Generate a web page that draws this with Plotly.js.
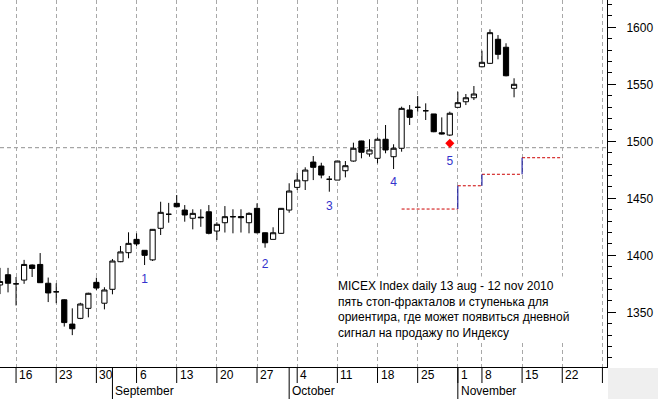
<!DOCTYPE html>
<html><head><meta charset="utf-8">
<script src="https://cdn.plot.ly/plotly-3.0.1.min.js"></script>
<style>html,body{margin:0;padding:0;background:#fff}#chart{width:658px;height:399px}</style>
</head><body><div id="chart"></div>
<script>
// Trading calendar (MICEX, 2010)
const firstSession = '2010-08-12';
const lastSession = '2010-11-29';
const holidays = ['2010-11-04', '2010-11-05'];

// Daily OHLC, 12 Aug - 12 Nov 2010
const openP  = [1374,1383,1375,1378.3,1391.5,1392,1375.5,1368,1361,1339.7,1344.7,1353.5,1376.3,1358,1370.2,1394.4,1402.3,1414,1404.4,1396,1423.7,1436,1445.6,1439.7,1432.5,1433.5,1438.2,1421.3,1428.6,1434,1434,1428.6,1441.2,1419.8,1414,1419.3,1439.7,1459.6,1465.4,1481.8,1478.3,1466.7,1466,1474.2,1482.7,1500.3,1488.9,1485.1,1501.8,1486.5,1493.9,1527.5,1529.8,1526.8,1524,1507.5,1505.5,1529.8,1534.7,1538.2,1565.4,1568.4,1589.5,1582.5,1546.5];
const highP  = [1389,1389,1381,1396,1392,1402,1380.5,1375.5,1361.5,1353.5,1358.4,1367.2,1380.4,1372,1396.8,1408.2,1420.2,1419.3,1404.5,1423,1447,1446,1452.9,1444.1,1440.4,1440.4,1444.1,1429,1443.2,1440.4,1440.4,1437.7,1445.6,1420,1424.6,1441.5,1463.2,1472.5,1477.2,1487.1,1481.2,1469.6,1483,1482.7,1498.8,1500.5,1501.8,1503.5,1514.3,1497.4,1530.4,1531.8,1539.7,1533.3,1524,1521,1526,1543.5,1541.5,1548.5,1579.5,1598.2,1593.2,1586,1555.3];
const lowP   = [1366,1367.5,1356,1375,1381,1376,1359,1358,1337.5,1330,1344,1345.6,1369.6,1352.6,1365.8,1394,1397.4,1408.2,1391.5,1395,1417.8,1428.6,1442,1429.5,1422.8,1425,1418.4,1413.4,1420,1419.3,1420,1419.3,1419.3,1406.7,1414,1419,1437.4,1457.3,1457.3,1466,1467.5,1455.8,1466,1468.4,1482.1,1485.1,1486.5,1480.7,1489.5,1475.7,1490.9,1514.3,1526,1518.7,1508,1506,1504.6,1529.8,1531.8,1536.2,1564.9,1568,1571.9,1557,1538.6];
const closeP = [1377,1375.5,1375,1392,1388.5,1376,1367,1368,1341,1335.6,1357.3,1366.7,1371.3,1369.6,1395,1403,1410.5,1410,1400,1422.8,1437.7,1436,1442.6,1435.4,1436.8,1433,1419.3,1427.2,1433.9,1433.8,1433,1436.8,1419.8,1411,1419.8,1441.2,1456.4,1466,1474.8,1477.2,1470.4,1466.7,1482.7,1478.6,1493.9,1490.4,1492.4,1501.8,1492.4,1493.9,1528.9,1521,1529.8,1526.8,1508.4,1506.5,1524.6,1533.9,1538.2,1541.5,1569.3,1595.3,1576.3,1557.5,1550];

// Stop-fractal labels
const fractalDates  = ['2010-09-07','2010-09-28','2010-10-08','2010-10-20','2010-10-29'];
const fractalLabelY = [1378.3, 1391.5, 1442.4, 1463.4, 1481.8];
const fractalLabels = ['1','2','3','4','5'];

// Signal marker
const signalDate = '2010-10-29';
const signalValue = 1498.2;

// Step line (ориентир)
const stepStarts = ['2010-10-21','2010-11-01','2010-11-08','2010-11-15'];
const stepEnds   = ['2010-11-01','2010-11-08','2010-11-15','2010-11-22'];
const stepLevels = [1440.6, 1461, 1471.1, 1485.6];

// Horizontal level line
const hLevel = 1494.4;

const monthNames = ['January','February','March','April','May','June','July','August','September','October','November','December'];
const noteLines = [
  'MICEX Index daily 13 aug - 12 nov 2010',
  'пять стоп-фракталов и ступенька для',
  'ориентира, где может появиться дневной',
  'сигнал на продажу по Индексу'
];

function buildSessions() {
  const out = [];
  let d = new Date(firstSession + 'T00:00:00Z');
  const end = new Date(lastSession + 'T00:00:00Z');
  while (d <= end) {
    const s = d.toISOString().slice(0, 10);
    const w = d.getUTCDay();
    if (w !== 0 && w !== 6 && !holidays.includes(s)) out.push(s);
    d = new Date(d.getTime() + 86400000);
  }
  return out;
}
const sessions = buildSessions();
const pos = s => sessions.indexOf(s);
const xIdx = openP.map((_, i) => i);

const weekIdx = [], weekText = [];
const monthIdx = [], monthText = [];
sessions.forEach((s, i) => {
  const d = new Date(s + 'T00:00:00Z');
  if (d.getUTCDay() === 1) { weekIdx.push(i); weekText.push(String(d.getUTCDate())); }
  if (i > 0 && s.slice(5, 7) !== sessions[i - 1].slice(5, 7)) { monthIdx.push(i); monthText.push(monthNames[d.getUTCMonth()]); }
});

const PH = 367; // plot height in px (for axis-strip placement)
const font = 'Arial, "Liberation Sans", sans-serif';

const traces = [];
traces.push({
  type: 'candlestick', x: xIdx, open: openP, high: highP, low: lowP, close: closeP,
  increasing: { line: { color: '#000', width: 1 }, fillcolor: '#ffffff' },
  decreasing: { line: { color: '#000', width: 1 }, fillcolor: '#000000' },
  whiskerwidth: 0, hoverinfo: 'skip', showlegend: false
});

// step line: red dashed horizontals, blue verticals
const hx = [], hy = [], vx = [], vy = [];
stepLevels.forEach((lv, k) => {
  hx.push(pos(stepStarts[k]), pos(stepEnds[k]), null); hy.push(lv, lv, null);
  if (k > 0) { vx.push(pos(stepStarts[k]), pos(stepStarts[k]), null); vy.push(stepLevels[k - 1], lv, null); }
});
traces.push({ type: 'scatter', mode: 'lines', x: hx, y: hy, line: { color: '#cc0000', width: 1, dash: '3px,2px' }, hoverinfo: 'skip', showlegend: false });
traces.push({ type: 'scatter', mode: 'lines', x: vx, y: vy, line: { color: '#000099', width: 1 }, hoverinfo: 'skip', showlegend: false });

traces.push({
  type: 'scatter', mode: 'text', x: fractalDates.map(pos), y: fractalLabelY, text: fractalLabels,
  textfont: { family: font, size: 12, color: '#3333cc' }, textposition: 'middle center', hoverinfo: 'skip', showlegend: false
});
traces.push({
  type: 'scatter', mode: 'markers', x: [pos(signalDate)], y: [signalValue],
  marker: { symbol: 'diamond', size: 7, color: '#ff0000', line: { width: 0 } }, hoverinfo: 'skip', showlegend: false
});

const shapes = [];
shapes.push({ type: 'line', xref: 'paper', yref: 'y', x0: 0, x1: 1, y0: hLevel, y1: hLevel, line: { color: '#909090', width: 1, dash: '4px,3px' }, layer: 'below' });
weekIdx.forEach(i => shapes.push({ type: 'line', xref: 'x', yref: 'paper', x0: i, x1: i, y0: -16 / PH, y1: 0, line: { color: '#000', width: 1 } }));
monthIdx.forEach(i => shapes.push({ type: 'line', xref: 'x', yref: 'paper', x0: i, x1: i, y0: -32 / PH, y1: 0, line: { color: '#000', width: 1 } }));
shapes.push({ type: 'rect', xref: 'paper', yref: 'paper', x0: 608 / 607, x1: 1.2, y0: -40 / PH, y1: -1 / PH, line: { width: 0 }, fillcolor: '#efefef' });

const annotations = [];
weekIdx.forEach((i, k) => {
  if (i >= 75) return;
  annotations.push({ xref: 'x', yref: 'paper', x: i, y: -8 / PH, xanchor: 'left', yanchor: 'middle', xshift: 1, text: weekText[k], showarrow: false, font: { family: font, size: 12, color: '#000' } });
});
monthIdx.forEach((i, k) => {
  annotations.push({ xref: 'x', yref: 'paper', x: i, y: -24 / PH, xanchor: 'left', yanchor: 'middle', xshift: 1, text: monthText[k], showarrow: false, font: { family: font, size: 12, color: '#000' } });
});
annotations.push({ xref: 'paper', yref: 'paper', x: 335 / 607, y: (PH - 276) / PH, xanchor: 'left', yanchor: 'top', align: 'left', text: noteLines.join('<br>'), showarrow: false, bgcolor: '#ffffff', borderpad: 2, font: { family: font, size: 12, color: '#000' } });

const layout = {
  width: 658, height: 399,
  margin: { l: 0, r: 51, t: 0, b: 32, pad: 0 },
  paper_bgcolor: '#fff', plot_bgcolor: '#fff',
  showlegend: false, boxgap: 0.35, boxgroupgap: 0,
  xaxis: {
    range: [0, 75.57], rangeslider: { visible: false }, fixedrange: true,
    tickmode: 'array', tickvals: weekIdx, showticklabels: false, ticks: '',
    showgrid: true, gridcolor: '#a8a8a8', griddash: '4px,3px', gridwidth: 1,
    zeroline: false, showline: true, linecolor: '#000', linewidth: 1
  },
  yaxis: {
    side: 'right', range: [1302.05, 1623.95], fixedrange: true,
    tickmode: 'linear', tick0: 0, dtick: 50, ticks: 'outside', ticklen: 8, tickcolor: '#000', tickwidth: 1,
    ticklabelstandoff: 8,
    minor: { tickmode: 'linear', tick0: 0, dtick: 10, ticks: 'outside', ticklen: 4, tickcolor: '#000', showgrid: false },
    showgrid: false, zeroline: false, showline: true, linecolor: '#000', linewidth: 1,
    tickfont: { family: font, size: 12, color: '#000' }
  },
  shapes: shapes, annotations: annotations
};

Plotly.newPlot('chart', traces, layout, { staticPlot: true, displayModeBar: false });
</script>
</body></html>
